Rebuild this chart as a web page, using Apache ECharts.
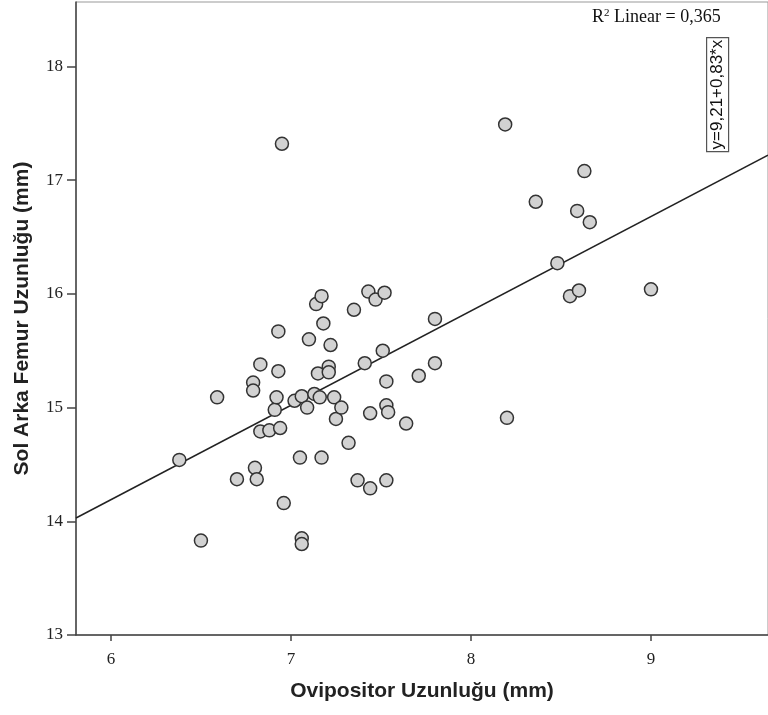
<!DOCTYPE html>
<html>
<head>
<meta charset="utf-8">
<title>Ovipositor - Sol Arka Femur</title>
<script src="https://cdn.jsdelivr.net/npm/echarts@6/dist/echarts.min.js"></script>
<style>
  html, body { margin: 0; padding: 0; background: #fff; }
  #chart { width: 768px; height: 715px; }
</style>
</head>
<body>
<div id="chart"></div>
<script>
// values (mm)
const ovipositor = [
  6.38, 6.50, 6.59, 6.70, 6.79, 6.79, 6.80, 6.81, 6.83, 6.83,
  6.88, 6.91, 6.92, 6.93, 6.93, 6.95, 6.94, 6.96, 7.02, 7.05,
  7.06, 7.06, 7.06, 7.09, 7.10, 7.13, 7.14, 7.15, 7.16, 7.17,
  7.17, 7.18, 7.21, 7.21, 7.22, 7.24, 7.25, 7.28, 7.32, 7.35,
  7.37, 7.41, 7.43, 7.44, 7.44, 7.47, 7.51, 7.52, 7.53, 7.53,
  7.53, 7.54, 7.64, 7.71, 7.80, 7.80, 8.19, 8.20, 8.36, 8.48,
  8.55, 8.59, 8.60, 8.63, 8.66, 9.00
];
const femur = [
  14.54, 13.83, 15.09, 14.37, 15.22, 15.15, 14.47, 14.37, 15.38, 14.79,
  14.80, 14.98, 15.09, 15.67, 15.32, 17.32, 14.82, 14.16, 15.06, 14.56,
  13.85, 13.80, 15.10, 15.00, 15.60, 15.12, 15.91, 15.30, 15.09, 15.98,
  14.56, 15.74, 15.36, 15.31, 15.55, 15.09, 14.90, 15.00, 14.69, 15.86,
  14.36, 15.39, 16.02, 14.95, 14.29, 15.95, 15.50, 16.01, 14.36, 15.02,
  15.23, 14.96, 14.86, 15.28, 15.78, 15.39, 17.49, 14.91, 16.81, 16.27,
  15.98, 16.73, 16.03, 17.08, 16.63, 16.04
];
const xTicks = [6, 7, 8, 9];
const yTicks = [13, 14, 15, 16, 17, 18];

// linear fit as printed on the chart
const fitIntercept = 9.21;
const fitSlope = 0.83;
const fitLabel = "y=9,21+0,83*x";
const r2Text = "0,365";

const xMin = 5.806, xMax = 9.65;
const yMin = 13, yMax = 18.567;

const points = ovipositor.map((v, i) => [v, femur[i]]);
const fitLine = [xMin, xMax].map(x => [x, fitIntercept + fitSlope * x]);

const chart = echarts.init(document.getElementById("chart"));

const tickFont = {
  color: "#222",
  fontFamily: "Liberation Serif",
  fontSize: 17
};
const titleFont = {
  color: "#222",
  fontFamily: "Liberation Sans",
  fontWeight: "bold",
  fontSize: 21
};

chart.setOption({
  animation: false,
  grid: {
    left: 76,
    top: 2,
    width: 694,
    bottom: 80,
    show: true,
    borderColor: "#999",
    borderWidth: 1
  },
  xAxis: {
    type: "value",
    min: xMin,
    max: xMax,
    name: "Ovipositor Uzunluğu (mm)",
    nameLocation: "middle",
    nameGap: 46,
    nameTextStyle: titleFont,
    axisLine: { onZero: false, lineStyle: { color: "#444", width: 1.5 } },
    axisTick: { customValues: xTicks, length: 6, lineStyle: { color: "#444", width: 1.5 } },
    axisLabel: Object.assign({ customValues: xTicks, margin: 16 }, tickFont),
    splitLine: { show: false }
  },
  yAxis: {
    type: "value",
    min: yMin,
    max: yMax,
    name: "Sol Arka Femur Uzunluğu (mm)",
    nameLocation: "middle",
    nameGap: 43,
    nameTextStyle: titleFont,
    axisLine: { onZero: false, lineStyle: { color: "#444", width: 1.5 } },
    axisTick: { customValues: yTicks, length: 9, lineStyle: { color: "#444", width: 1.5 } },
    axisLabel: Object.assign({ customValues: yTicks, margin: 13 }, tickFont),
    splitLine: { show: false }
  },
  series: [
    {
      type: "line",
      data: fitLine,
      symbol: "none",
      z: 1,
      lineStyle: { color: "#222", width: 1.5 },
      silent: true
    },
    {
      type: "scatter",
      data: points,
      symbol: "circle",
      symbolSize: 13,
      z: 2,
      itemStyle: {
        color: "#d2d2d2",
        borderColor: "#333",
        borderWidth: 1.5,
        opacity: 1
      }
    }
  ],
  graphic: [
    {
      type: "text",
      left: 592,
      top: 8,
      style: {
        text: "R{sup|2} Linear = " + r2Text,
        fill: "#111",
        fontFamily: "Liberation Serif",
        fontSize: 18,
        rich: {
          sup: { fontSize: 11, verticalAlign: "top", padding: [0, 0, 8, 0], fontFamily: "Liberation Serif" }
        }
      }
    },
    {
      type: "group",
      left: 706,
      top: 37,
      children: [
        {
          type: "rect",
          shape: { x: 0, y: 0, width: 22, height: 114 },
          style: { fill: "#fff", stroke: "#555", lineWidth: 1.2 }
        },
        {
          type: "text",
          x: 11,
          y: 57,
          rotation: Math.PI / 2,
          style: {
            text: fitLabel,
            fill: "#111",
            fontFamily: "Liberation Sans",
            fontSize: 17,
            align: "center",
            verticalAlign: "middle"
          }
        }
      ]
    }
  ]
});
</script>
</body>
</html>
